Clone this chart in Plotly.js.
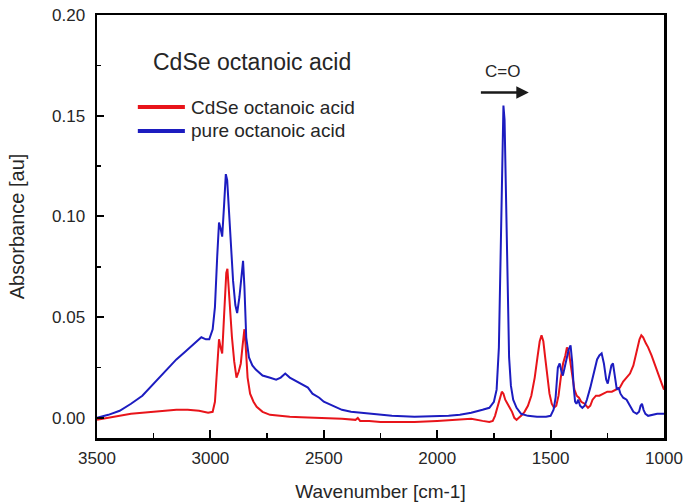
<!DOCTYPE html>
<html>
<head>
<meta charset="utf-8">
<script src="https://cdn.plot.ly/plotly-3.0.1.min.js"></script>
<style>html,body{margin:0;padding:0;background:#fff;}#chart{width:684px;height:502px;}</style>
</head>
<body>
<div id="chart"></div>
<script>
// Pure octanoic acid (blue)
const pureWn = [3500,3450,3400,3350,3300,3250,3200,3150,3110,3080,3060,3040,3020,3005,2990,2980,2970,2962,2955,2948,2940,2932,2926,2915,2900,2890,2882,2872,2862,2856,2850,2842,2830,2815,2800,2770,2740,2710,2690,2670,2650,2620,2590,2570,2550,2520,2500,2460,2420,2380,2300,2200,2100,2000,1950,1900,1850,1800,1770,1750,1738,1728,1720,1713,1708,1703,1697,1690,1683,1675,1665,1650,1630,1600,1560,1520,1500,1487,1478,1468,1460,1452,1446,1438,1428,1420,1412,1405,1398,1392,1386,1378,1370,1360,1350,1340,1325,1310,1295,1285,1275,1265,1255,1248,1240,1232,1225,1217,1208,1200,1192,1180,1165,1150,1135,1120,1110,1103,1097,1090,1082,1070,1050,1030,1010,1000];
const pureAbs = [0.000,0.0015,0.0035,0.007,0.011,0.017,0.023,0.029,0.033,0.036,0.038,0.040,0.039,0.039,0.044,0.055,0.080,0.097,0.094,0.090,0.105,0.121,0.118,0.095,0.068,0.056,0.052,0.060,0.072,0.078,0.065,0.040,0.030,0.026,0.024,0.021,0.020,0.019,0.020,0.022,0.020,0.018,0.016,0.015,0.012,0.010,0.008,0.006,0.004,0.003,0.002,0.001,0.0005,0.0007,0.001,0.0015,0.0025,0.004,0.005,0.008,0.014,0.035,0.080,0.135,0.155,0.148,0.110,0.060,0.030,0.016,0.009,0.005,0.002,0.001,0.0005,0.0005,0.001,0.004,0.010,0.025,0.027,0.023,0.021,0.025,0.031,0.034,0.036,0.028,0.015,0.008,0.007,0.009,0.006,0.005,0.006,0.009,0.015,0.022,0.029,0.031,0.032,0.027,0.019,0.017,0.022,0.026,0.027,0.020,0.014,0.015,0.012,0.010,0.009,0.006,0.003,0.002,0.003,0.006,0.007,0.004,0.002,0.001,0.0015,0.002,0.002,0.002];

// CdSe octanoic acid (red)
const cdseWn = [3500,3450,3400,3350,3300,3250,3200,3150,3100,3050,3010,2990,2980,2970,2962,2955,2948,2940,2930,2925,2918,2905,2895,2885,2875,2866,2858,2850,2844,2836,2825,2810,2796,2770,2737,2700,2650,2600,2500,2420,2360,2350,2340,2300,2250,2200,2100,2000,1900,1850,1800,1770,1755,1745,1735,1725,1715,1708,1700,1690,1680,1670,1660,1650,1640,1630,1615,1600,1585,1570,1558,1548,1540,1532,1524,1515,1505,1495,1485,1475,1465,1455,1445,1435,1428,1420,1412,1405,1395,1385,1375,1365,1350,1335,1325,1315,1300,1285,1270,1250,1230,1210,1195,1180,1165,1150,1135,1120,1108,1100,1092,1080,1070,1055,1040,1025,1010,1000];
const cdseAbs = [-0.001,0.000,0.001,0.002,0.0025,0.003,0.0035,0.004,0.004,0.0035,0.0025,0.003,0.008,0.025,0.039,0.035,0.032,0.050,0.072,0.074,0.060,0.040,0.028,0.020,0.023,0.027,0.036,0.044,0.035,0.020,0.012,0.008,0.0055,0.003,0.0015,0.001,0.0005,0.0003,0.000,-0.0005,-0.001,0.000,-0.0015,-0.0015,-0.002,-0.002,-0.002,-0.0015,-0.001,-0.0005,-0.0015,-0.002,-0.0015,0.001,0.005,0.009,0.013,0.012,0.009,0.007,0.005,0.003,0.000,-0.001,0.000,0.001,0.003,0.006,0.011,0.020,0.030,0.038,0.041,0.038,0.030,0.020,0.012,0.007,0.005,0.006,0.011,0.020,0.027,0.031,0.035,0.033,0.027,0.020,0.014,0.011,0.010,0.008,0.007,0.005,0.006,0.009,0.011,0.011,0.012,0.013,0.013,0.014,0.015,0.018,0.020,0.022,0.026,0.033,0.039,0.041,0.040,0.037,0.035,0.031,0.026,0.021,0.017,0.014];

const seriesNames = ['CdSe octanoic acid', 'pure octanoic acid'];
const seriesColors = ['#e8141a', '#1c1cc0'];
const xTickVals = [3500,3000,2500,2000,1500,1000];
const yTickVals = [0.00,0.05,0.10,0.15,0.20];

const FONT = 'Liberation Sans, Arial, sans-serif';
const TXT = '#262626';

const traces = [
  {x: cdseWn, y: cdseAbs, name: seriesNames[0], type: 'scatter', mode: 'lines',
   line: {color: seriesColors[0], width: 2}},
  {x: pureWn, y: pureAbs, name: seriesNames[1], type: 'scatter', mode: 'lines',
   line: {color: seriesColors[1], width: 2}}
];

// custom legend (sample lines + labels), in paper coordinates
const legX0 = 0.072, legX1 = 0.155, legTextX = 0.162;
const legY = [0.7825, 0.7258];
const shapes = seriesNames.map((n, i) => ({
  type: 'line', xref: 'paper', yref: 'paper', x0: legX0, x1: legX1, y0: legY[i], y1: legY[i],
  line: {color: seriesColors[i], width: 4}
}));
const legendText = seriesNames.map((n, i) => ({
  xref: 'paper', yref: 'paper', x: legTextX, y: legY[i], xanchor: 'left', yanchor: 'middle',
  text: n, showarrow: false, font: {size: 19, color: TXT, family: FONT}
}));

const layout = {
  width: 684, height: 502,
  margin: {l: 97, r: 20, t: 15, b: 64},
  paper_bgcolor: '#fff', plot_bgcolor: '#fff',
  font: {family: FONT, color: TXT},
  showlegend: false,
  xaxis: {
    range: [3500, 1000], tickvals: xTickVals, ticktext: xTickVals.map(String),
    ticks: 'inside', ticklen: 8, tickwidth: 2, tickcolor: '#000',
    minor: {dtick: 250, tick0: 1000, ticks: 'inside', ticklen: 5, tickwidth: 1.5, tickcolor: '#000'},
    showline: true, linecolor: '#000', linewidth: 2.5, mirror: true,
    showgrid: false, zeroline: false, ticklabelstandoff: 3,
    tickfont: {size: 17, color: TXT, family: FONT},
    title: {text: 'Wavenumber [cm-1]', font: {size: 19, color: TXT, family: FONT}, standoff: 19}
  },
  yaxis: {
    range: [-0.01, 0.20], tickvals: yTickVals, tickformat: '.2f',
    ticks: 'inside', ticklen: 7, tickwidth: 2, tickcolor: '#000',
    minor: {dtick: 0.025, tick0: 0, ticks: 'inside', ticklen: 4, tickwidth: 1.5, tickcolor: '#000'},
    showline: true, linecolor: '#000', linewidth: 2.5, mirror: true,
    showgrid: false, zeroline: false, ticklabelstandoff: 6,
    tickfont: {size: 17, color: TXT, family: FONT},
    title: {text: 'Absorbance [au]', font: {size: 20, color: TXT, family: FONT}, standoff: 22}
  },
  shapes: shapes,
  annotations: [
    {x: 2815, y: 0.1767, xref: 'x', yref: 'y', text: 'CdSe octanoic acid', showarrow: false,
     font: {size: 23, color: TXT, family: FONT}},
    {x: 1714, y: 0.172, xref: 'x', yref: 'y', text: 'C=O', showarrow: false,
     font: {size: 17, color: TXT, family: FONT}},
    {x: 1596, y: 0.1615, xref: 'x', yref: 'y', ax: 1814, ay: 0.1615, axref: 'x', ayref: 'y',
     text: '', showarrow: true, arrowhead: 2, arrowsize: 1, arrowwidth: 2.5, arrowcolor: '#1a1a1a'}
  ].concat(legendText)
};

Plotly.newPlot('chart', traces, layout, {displayModeBar: false, staticPlot: true});
</script>
</body>
</html>
